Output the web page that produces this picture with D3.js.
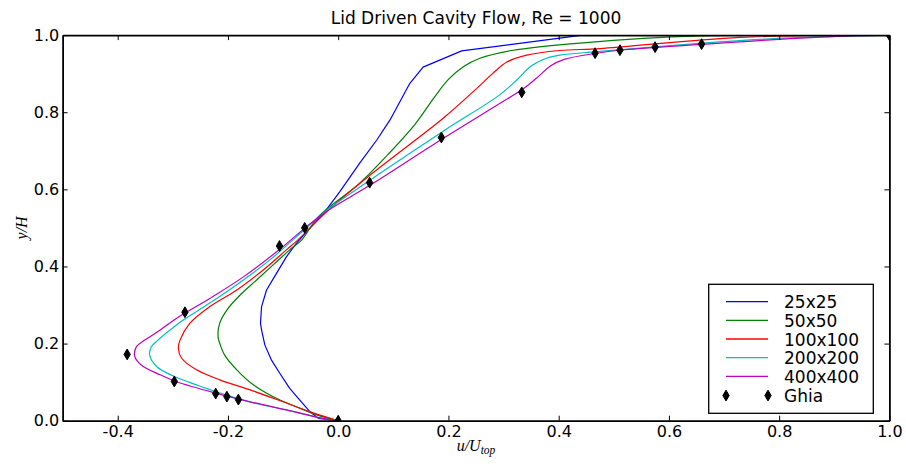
<!DOCTYPE html>
<html>
<head>
<meta charset="utf-8">
<script src="https://cdn.jsdelivr.net/npm/d3@7/dist/d3.min.js"></script>
<style>
  body { margin: 0; background: #fff; }
  svg { display: block; }
  text { font-family: "DejaVu Sans", sans-serif; fill: #000; }
</style>
</head>
<body>
<div id="chart"></div>
<script>
// ---------------- data ----------------
const chartTitle = "Lid Driven Cavity Flow, Re = 1000";
const seriesNames = ["25x25", "50x50", "100x100", "200x200", "400x400"];
const seriesColors = ["#0000ff", "#008000", "#ff0000", "#00bfbf", "#bf00bf"];

const u25 = [0, -0.036, -0.051, -0.070, -0.088, -0.106, -0.121, -0.133, -0.139, -0.141, -0.139, -0.130, -0.112, -0.094, -0.076, -0.024, 0.003, 0.039, 0.070, 0.094, 0.130, 0.154, 0.224, 0.402, 0.442, 1.0];
const y25 = [0, 0.006, 0.023, 0.054, 0.084, 0.123, 0.157, 0.196, 0.235, 0.253, 0.296, 0.339, 0.382, 0.425, 0.460, 0.542, 0.594, 0.668, 0.728, 0.780, 0.875, 0.917, 0.959, 0.992, 1.0, 1.0];

const u50 = [0, -0.039, -0.076, -0.118, -0.154, -0.184, -0.206, -0.215, -0.218, -0.215, -0.202, -0.178, -0.148, -0.118, -0.088, -0.066, -0.036, 0.039, 0.090, 0.140, 0.175, 0.200, 0.227, 0.257, 0.315, 0.444, 0.656, 1.0];
const y50 = [0, 0.015, 0.036, 0.062, 0.093, 0.132, 0.170, 0.201, 0.218, 0.253, 0.287, 0.326, 0.365, 0.404, 0.443, 0.469, 0.529, 0.616, 0.690, 0.770, 0.840, 0.885, 0.918, 0.940, 0.960, 0.980, 0.998, 1.0];

const u100 = [0, -0.051, -0.100, -0.160, -0.215, -0.257, -0.284, -0.290, -0.287, -0.269, -0.233, -0.184, -0.136, -0.094, -0.073, -0.021, 0.058, 0.191, 0.250, 0.280, 0.306, 0.342, 0.402, 0.475, 0.729, 1.0];
const y100 = [0, 0.023, 0.049, 0.080, 0.106, 0.132, 0.162, 0.188, 0.209, 0.253, 0.296, 0.339, 0.391, 0.443, 0.469, 0.542, 0.637, 0.785, 0.860, 0.900, 0.930, 0.948, 0.960, 0.965, 0.994, 1.0];

const u200 = [0, -0.021, -0.094, -0.160, -0.221, -0.257, -0.296, -0.329, -0.342, -0.339, -0.327, -0.305, -0.281, -0.233, -0.172, -0.124, -0.075, -0.024, 0.058, 0.194, 0.293, 0.325, 0.350, 0.378, 0.402, 0.469, 0.660, 0.807, 1.0];
const y200 = [0, 0.004, 0.028, 0.049, 0.075, 0.093, 0.114, 0.140, 0.170, 0.192, 0.209, 0.235, 0.261, 0.305, 0.365, 0.417, 0.478, 0.542, 0.624, 0.754, 0.845, 0.885, 0.920, 0.940, 0.948, 0.957, 0.979, 0.992, 1.0];

const u400 = [0, -0.021, -0.094, -0.160, -0.221, -0.293, -0.323, -0.357, -0.369, -0.366, -0.351, -0.323, -0.293, -0.233, -0.172, -0.110, -0.060, -0.024, 0.058, 0.188, 0.290, 0.335, 0.365, 0.385, 0.410, 0.469, 0.520, 0.660, 0.800, 0.928, 1.0];
const y400 = [0, 0.004, 0.028, 0.049, 0.071, 0.101, 0.119, 0.144, 0.166, 0.192, 0.209, 0.235, 0.266, 0.317, 0.373, 0.440, 0.500, 0.540, 0.611, 0.730, 0.820, 0.860, 0.895, 0.920, 0.937, 0.953, 0.962, 0.976, 0.989, 0.998, 1.0];

const ghiaU = [1.00000, 0.65928, 0.57492, 0.51117, 0.46604, 0.33304, 0.18719, 0.05702, -0.06080, -0.10648, -0.27805, -0.38289, -0.29730, -0.22220, -0.20196, -0.18109, 0.00000];
const ghiaY = [1.0000, 0.9766, 0.9688, 0.9609, 0.9531, 0.8516, 0.7344, 0.6172, 0.5000, 0.4531, 0.2813, 0.1719, 0.1016, 0.0703, 0.0625, 0.0547, 0.0000];

const xTicks = [-0.4, -0.2, 0.0, 0.2, 0.4, 0.6, 0.8, 1.0];
const yTicks = [0.0, 0.2, 0.4, 0.6, 0.8, 1.0];

// ---------------- drawing ----------------
const W = 906, H = 467;
const svg = d3.select("#chart").append("svg").attr("width", W).attr("height", H);

const x = d3.scaleLinear().domain([-0.5, 1.0]).range([62.6, 889.4]);
const y = d3.scaleLinear().domain([0, 1]).range([420.7, 35.1]);
const [x0, x1] = x.range();
const [yb, yt] = y.range();

svg.append("defs").append("clipPath").attr("id", "plotclip")
  .append("rect").attr("x", x0).attr("y", yt).attr("width", x1 - x0).attr("height", yb - yt);

const plot = svg.append("g").attr("clip-path", "url(#plotclip)");

const series = [
  { u: u25, y: y25, curve: d3.curveLinear },
  { u: u50, y: y50, curve: d3.curveCatmullRom.alpha(0.5) },
  { u: u100, y: y100, curve: d3.curveCatmullRom.alpha(0.5) },
  { u: u200, y: y200, curve: d3.curveCatmullRom.alpha(0.5) },
  { u: u400, y: y400, curve: d3.curveCatmullRom.alpha(0.5) }
];

series.forEach((s, i) => {
  const pts = s.u.map((v, k) => [v, s.y[k]]);
  const line = d3.line().x(d => x(d[0])).y(d => y(d[1])).curve(s.curve);
  plot.append("path").datum(pts)
    .attr("d", line)
    .attr("fill", "none")
    .attr("stroke", seriesColors[i])
    .attr("stroke-width", 1.2)
    .attr("stroke-linejoin", "round");
});

const diamond = "M0,-5.4L3.2,0L0,5.4L-3.2,0Z";
plot.selectAll("path.ghia").data(ghiaU.map((v, k) => [v, ghiaY[k]]))
  .enter().append("path").attr("class", "ghia")
  .attr("d", diamond)
  .attr("transform", d => `translate(${x(d[0])},${y(d[1])})`)
  .attr("fill", "#000").attr("stroke", "#000").attr("stroke-width", 1);

// axes
function styleAxis(g, showText) {
  g.select(".domain").attr("stroke", "#000").attr("stroke-width", 1.8);
  g.selectAll(".tick line").attr("stroke", "#000").attr("stroke-width", 1);
  g.selectAll(".tick text").style("font-family", "'DejaVu Sans', sans-serif").style("font-size", "16px").attr("fill", "#000");
  if (!showText) g.selectAll(".tick text").remove();
}

const fmt = d => d.toFixed(1);

svg.append("g").attr("transform", `translate(0,${yb})`)
  .call(d3.axisBottom(x).tickValues(xTicks).tickFormat(fmt).tickSizeInner(-5).tickSizeOuter(0).tickPadding(5))
  .call(g => styleAxis(g, true));
svg.append("g").attr("transform", `translate(0,${yt})`)
  .call(d3.axisTop(x).tickValues(xTicks).tickSizeInner(-5).tickSizeOuter(0))
  .call(g => styleAxis(g, false));
svg.append("g").attr("transform", `translate(${x0},0)`)
  .call(d3.axisLeft(y).tickValues(yTicks).tickFormat(fmt).tickSizeInner(-5).tickSizeOuter(0).tickPadding(3.3))
  .call(g => styleAxis(g, true));
svg.append("g").attr("transform", `translate(${x1},0)`)
  .call(d3.axisRight(y).tickValues(yTicks).tickSizeInner(-5).tickSizeOuter(0))
  .call(g => styleAxis(g, false));

// title
svg.append("text").attr("x", (x0 + x1) / 2).attr("y", 24)
  .attr("text-anchor", "middle").style("font-size", "17px").text(chartTitle);

// axis labels (math italic)
const xl = svg.append("text").attr("x", (x0 + x1) / 2).attr("y", 451)
  .attr("text-anchor", "middle")
  .style("font-family", "'Liberation Serif', serif").style("font-style", "italic").style("font-size", "16px");
xl.append("tspan").text("u/U");
xl.append("tspan").attr("dy", 3).style("font-size", "11.5px").text("top");

svg.append("text")
  .attr("transform", `translate(27,${(yt + yb) / 2}) rotate(-90)`)
  .attr("text-anchor", "middle")
  .style("font-family", "'Liberation Serif', serif").style("font-style", "italic").style("font-size", "16px")
  .text("y/H");

// legend
const lg = svg.append("g");
lg.append("rect").attr("x", 708.7).attr("y", 284.3).attr("width", 164.6).attr("height", 129)
  .attr("fill", "#fff").attr("stroke", "#000").attr("stroke-width", 1.3);
const rowY = k => 301.7 + k * 18.65;
seriesNames.forEach((name, k) => {
  lg.append("line").attr("x1", 726).attr("x2", 768).attr("y1", rowY(k)).attr("y2", rowY(k))
    .attr("stroke", seriesColors[k]).attr("stroke-width", 1.3);
  lg.append("text").attr("x", 784).attr("y", rowY(k) + 6.5).style("font-size", "17px").text(name);
});
const gy = rowY(5) + 0.6;
[726, 768].forEach(px => {
  lg.append("path").attr("d", diamond).attr("transform", `translate(${px},${gy})`)
    .attr("fill", "#000").attr("stroke", "#000").attr("stroke-width", 1);
});
lg.append("text").attr("x", 784).attr("y", gy + 6.5).style("font-size", "17px").text("Ghia");
</script>
</body>
</html>
